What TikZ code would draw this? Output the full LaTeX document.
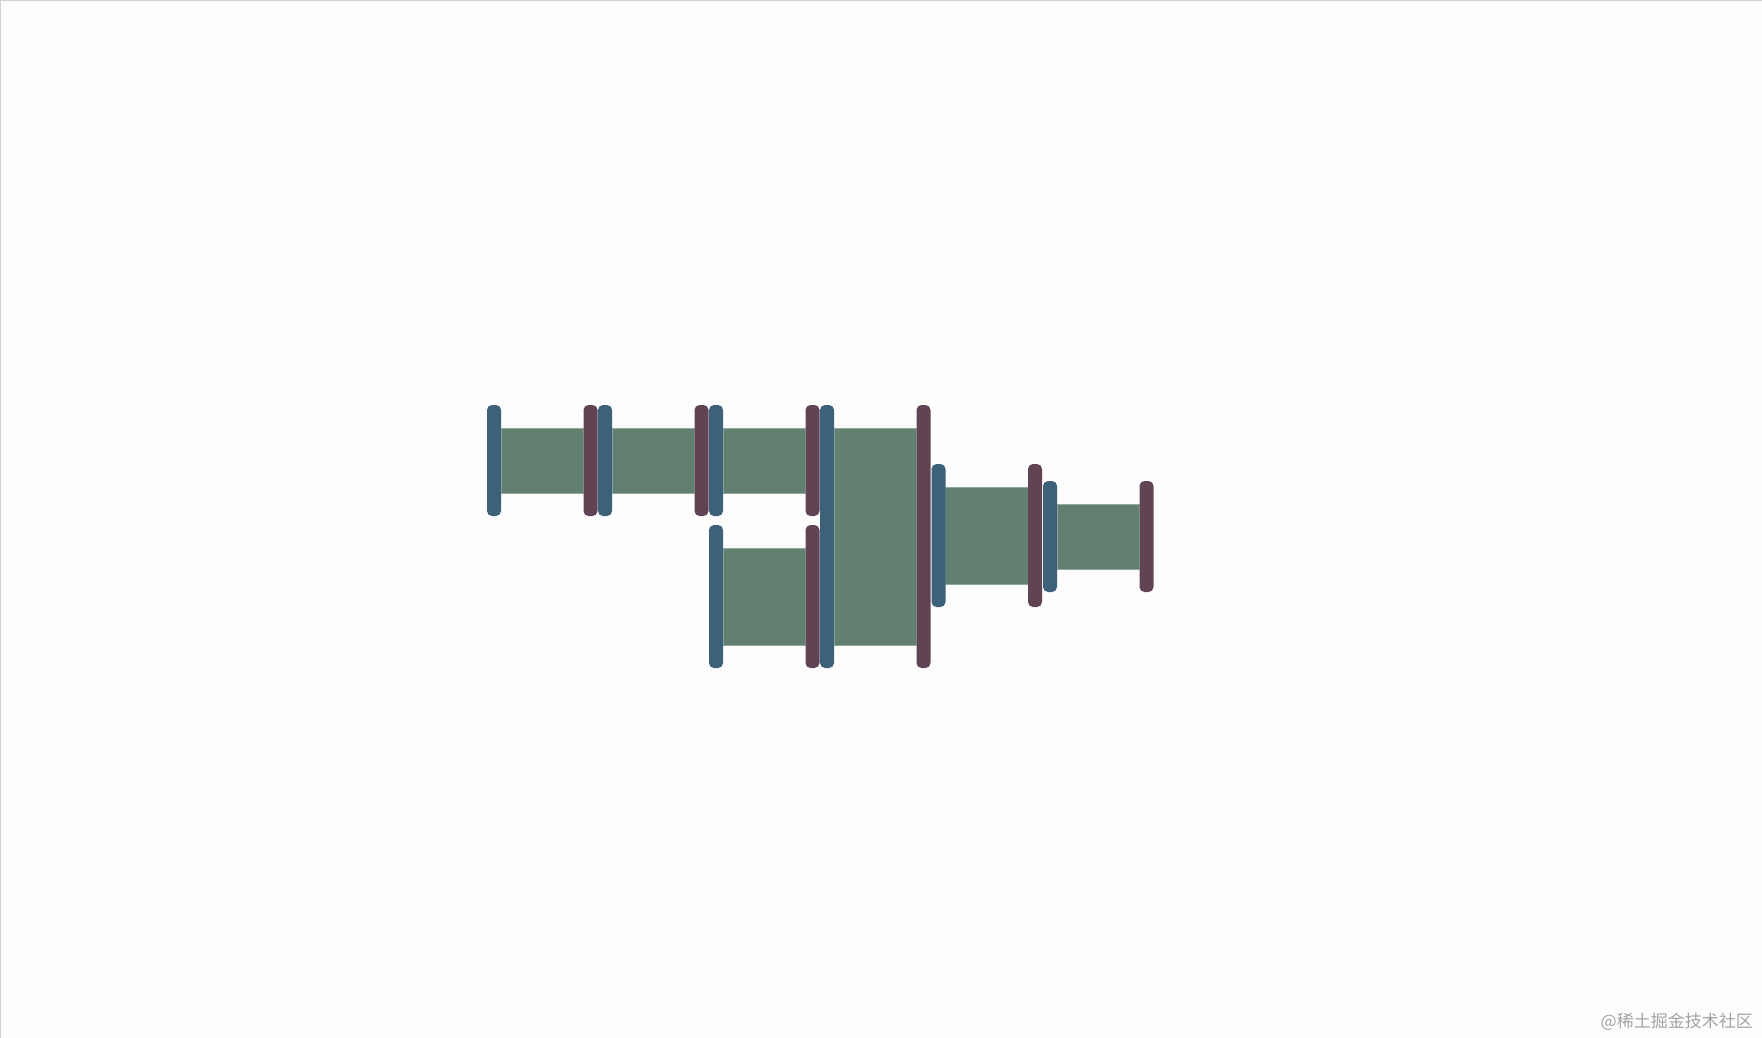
\documentclass[tikz,border=0pt]{standalone}
\usepackage{fontspec}
\newfontfamily\cjk{Noto Sans CJK SC}
\definecolor{barblue}{HTML}{3D6179}
\definecolor{barpurple}{HTML}{614453}
\definecolor{blockgreen}{HTML}{62806F}
\definecolor{blockedge}{HTML}{93AA9D}
\definecolor{pagebg}{HTML}{FDFDFD}
\definecolor{frameline}{HTML}{D2D2D2}
\definecolor{markgrey}{HTML}{A3A3A3}

\tikzset{
  bluebar/.style={fill=barblue, rounded corners=5pt},
  purplebar/.style={fill=barpurple, rounded corners=5pt},
  greenblock/.style={fill=blockgreen, draw=blockedge, line width=0.6pt}
}

% one call: start bar, body, end bar
\newcommand{\callseg}[3]{%
  \draw[greenblock] (#1+14,#2+23) rectangle (#1+96.5,#3-23);
  \fill[bluebar] (#1,#2) rectangle (#1+14,#3);
  \fill[purplebar] (#1+96.5,#2) rectangle (#1+110.5,#3);
}

\begin{document}
\begin{tikzpicture}[x=1pt, y=-1pt]

    \fill[pagebg] (0,0) rectangle (1762,1038);
    \useasboundingbox (0,0) rectangle (1762,1038);
    \draw[frameline, line width=1.5pt] (0,1038) -- (0,0) -- (1762,0);

    % first row
    \foreach \x in {487, 598, 709}
    \callseg{\x}{405}{516};

    % second row and the long call
    \callseg{709}{525}{668}
    \callseg{820}{405}{668}

    % nested calls to the right
    \callseg{931.5}{464}{607}
    \callseg{1043}{481}{592}

    \node[anchor=east, text=markgrey, font=\cjk\fontsize{17}{17}\selectfont, inner sep=0pt]
        (mark) at (1753,1022) {@稀土掘金技术社区};
\end{tikzpicture}
\end{document}
